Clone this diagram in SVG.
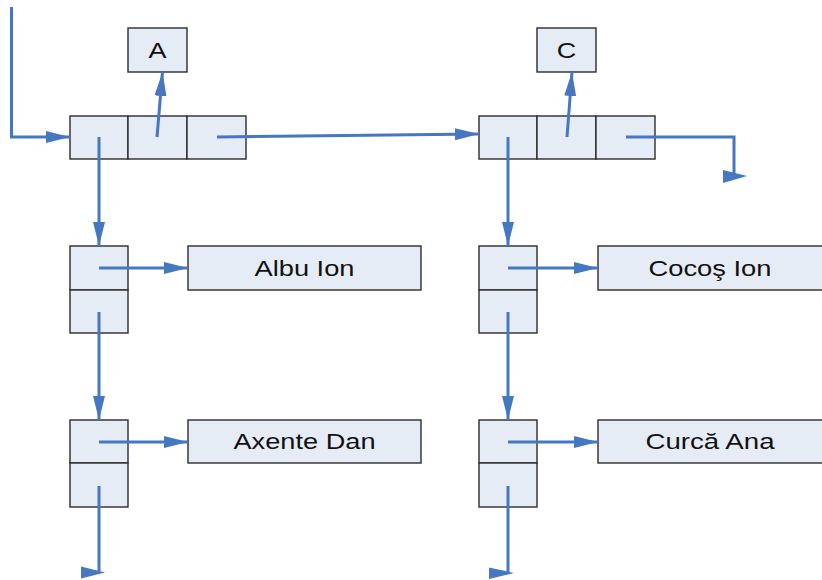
<svg xmlns="http://www.w3.org/2000/svg" width="822" height="580" viewBox="0 0 822 580">
  <style>
    .cell { fill: #E6ECF6; stroke: #2b2b2b; stroke-width: 1.4; }
    .lbl { font-family: "Liberation Sans", Arial, sans-serif; font-size: 22px; fill: #111; text-anchor: middle; }
    .link { fill: none; stroke: #4677C1; stroke-width: 3; }
    .nil { fill: #4677C1; stroke: none; }
  </style>
  <defs>
    <marker id="arrow" markerUnits="userSpaceOnUse" markerWidth="24" markerHeight="12" refX="24" refY="6" orient="auto" viewBox="0 0 24 12">
      <path d="M0,0 L24,6 L0,12 z" fill="#4677C1"/>
    </marker>
  </defs>

  <rect width="822" height="580" fill="#ffffff"/>

  <!-- index node for letter A -->
  <g id="nodeA">
    <rect class="cell" x="70" y="116" width="58" height="43"/>
    <rect class="cell" x="128" y="116" width="59" height="43"/>
    <rect class="cell" x="187" y="116" width="59" height="43"/>
  </g>
  <g id="keyA">
    <rect class="cell" x="128" y="28" width="59" height="44"/>
    <text class="lbl" x="157.5" y="57.5" textLength="18" lengthAdjust="spacingAndGlyphs">A</text>
  </g>

  <!-- index node for letter C -->
  <g id="nodeC">
    <rect class="cell" x="479" y="116" width="58" height="43"/>
    <rect class="cell" x="537" y="116" width="59" height="43"/>
    <rect class="cell" x="596" y="116" width="59" height="43"/>
  </g>
  <g id="keyC">
    <rect class="cell" x="537" y="28" width="59" height="44"/>
    <text class="lbl" x="566.5" y="57.5" textLength="19.5" lengthAdjust="spacingAndGlyphs">C</text>
  </g>

  <!-- name list under A -->
  <g id="itemA1">
    <rect class="cell" x="70" y="246" width="58" height="44"/>
    <rect class="cell" x="70" y="290" width="58" height="43"/>
  </g>
  <g id="nameA1">
    <rect class="cell" x="188" y="246" width="233" height="44"/>
    <text class="lbl" x="304.5" y="275.5" textLength="100" lengthAdjust="spacingAndGlyphs">Albu Ion</text>
  </g>
  <g id="itemA2">
    <rect class="cell" x="70" y="420" width="58" height="43"/>
    <rect class="cell" x="70" y="463" width="58" height="44"/>
  </g>
  <g id="nameA2">
    <rect class="cell" x="188" y="420" width="233" height="43"/>
    <text class="lbl" x="304.5" y="449" textLength="142" lengthAdjust="spacingAndGlyphs">Axente Dan</text>
  </g>

  <!-- name list under C -->
  <g id="itemC1">
    <rect class="cell" x="479" y="246" width="58" height="44"/>
    <rect class="cell" x="479" y="290" width="58" height="43"/>
  </g>
  <g id="nameC1">
    <rect class="cell" x="598" y="246" width="226" height="44"/>
    <text class="lbl" x="710" y="275.5" textLength="123" lengthAdjust="spacingAndGlyphs">Cocoş Ion</text>
  </g>
  <g id="itemC2">
    <rect class="cell" x="479" y="420" width="58" height="43"/>
    <rect class="cell" x="479" y="463" width="58" height="44"/>
  </g>
  <g id="nameC2">
    <rect class="cell" x="598" y="420" width="226" height="43"/>
    <text class="lbl" x="710" y="449" textLength="129" lengthAdjust="spacingAndGlyphs">Curcă Ana</text>
  </g>

  <g id="connectors">
    <!-- list head -->
    <polyline class="link" points="11.5,7 11.5,137 70,137" marker-end="url(#arrow)"/>
    <!-- node A links -->
    <line class="link" x1="157" y1="137" x2="162.5" y2="72" marker-end="url(#arrow)"/>
    <line class="link" x1="217" y1="137" x2="479" y2="134" marker-end="url(#arrow)"/>
    <line class="link" x1="99" y1="137" x2="99" y2="246" marker-end="url(#arrow)"/>
    <!-- node C links -->
    <line class="link" x1="567" y1="137" x2="572" y2="72" marker-end="url(#arrow)"/>
    <line class="link" x1="508" y1="137" x2="508" y2="246" marker-end="url(#arrow)"/>
    <polyline class="link" points="626,137 734,137 734,176"/>
    <polygon class="nil" points="723,170 747,176 723,183"/>
    <!-- list under A -->
    <line class="link" x1="99" y1="268" x2="188" y2="268" marker-end="url(#arrow)"/>
    <line class="link" x1="99" y1="312" x2="99" y2="420" marker-end="url(#arrow)"/>
    <line class="link" x1="99" y1="442" x2="188" y2="442" marker-end="url(#arrow)"/>
    <line class="link" x1="99" y1="486" x2="99" y2="572"/>
    <polygon class="nil" points="81,566.5 105,572.5 81,578.5"/>
    <!-- list under C -->
    <line class="link" x1="508" y1="268" x2="598" y2="268" marker-end="url(#arrow)"/>
    <line class="link" x1="508" y1="312" x2="508" y2="420" marker-end="url(#arrow)"/>
    <line class="link" x1="508" y1="442" x2="598" y2="442" marker-end="url(#arrow)"/>
    <line class="link" x1="508" y1="486" x2="508" y2="573"/>
    <polygon class="nil" points="489,567.5 514,573 489,579"/>
  </g>
</svg>
